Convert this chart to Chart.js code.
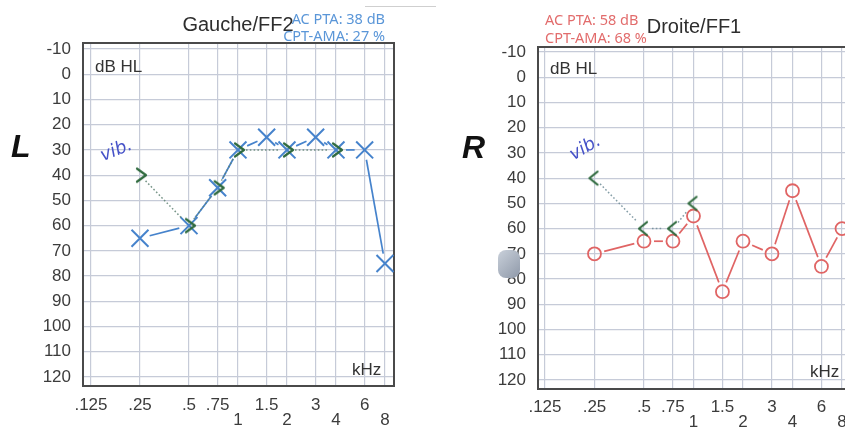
<!DOCTYPE html>
<html><head><meta charset="utf-8">
<script src="https://cdn.jsdelivr.net/npm/chart.js@4.4.0/dist/chart.umd.min.js"></script>
<style>
html,body{margin:0;padding:0;background:#fff;overflow:hidden;width:845px;height:431px;}
#wrap{position:relative;width:845px;height:431px;overflow:hidden;background:#fff;}
canvas{position:absolute;top:0;}
.t{position:absolute;white-space:nowrap;font-family:"Liberation Sans",Arial,sans-serif;color:#333;}
.pta{position:absolute;white-space:nowrap;font-family:"Noto Sans",sans-serif;font-size:14.5px;line-height:14px;}
.big{font-weight:bold;font-style:italic;font-size:32px;line-height:32px;color:#111;}
.vib{position:absolute;white-space:nowrap;font-family:"DejaVu Sans",sans-serif;font-style:italic;font-size:18px;line-height:18px;color:#4652c8;transform-origin:0 100%;}
</style></head>
<body><div id="wrap">
<canvas id="left" width="400" height="431" style="left:0"></canvas>
<canvas id="right" width="407" height="431" style="left:450px"></canvas>

<div class="t" style="left:138px;top:14px;width:200px;text-align:center;font-size:20px;line-height:20px;color:#2e2e2e">Gauche/FF2</div>
<div class="pta" style="left:235px;top:11px;width:150px;text-align:right;color:#5a96d8">AC PTA: 38 dB</div>
<div class="pta" style="left:235px;top:28px;width:150px;text-align:right;color:#5a96d8">CPT-AMA: 27 %</div>

<div class="t" style="left:594px;top:16px;width:200px;text-align:center;font-size:20px;line-height:20px;color:#2e2e2e">Droite/FF1</div>
<div class="pta" style="left:545px;top:12px;color:#e26c6c">AC PTA: 58 dB</div>
<div class="pta" style="left:545px;top:30px;color:#e26c6c">CPT-AMA: 68 %</div>

<div class="t big" style="left:11px;top:130px">L</div>
<div class="t big" style="left:462px;top:131px">R</div>

<div class="t" style="left:95px;top:58px;font-size:17px;line-height:17px">dB HL</div>
<div class="t" style="left:550px;top:60px;font-size:17px;line-height:17px">dB HL</div>
<div class="t" style="left:352px;top:361px;font-size:17px;line-height:17px">kHz</div>
<div class="t" style="left:810px;top:363px;font-size:17px;line-height:17px">kHz</div>

<div class="vib" style="left:104px;top:146px;transform:rotate(-22deg)">vib.</div>
<div class="vib" style="left:575px;top:145px;transform:rotate(-30deg)">vib.</div>

<div style="position:absolute;left:365px;top:6px;width:71px;height:1px;background:#cfcfcf"></div>
<div style="position:absolute;left:498px;top:250px;width:22px;height:28px;border-radius:8px;background:linear-gradient(135deg,#c9d0da,#8f99a9)"></div>
</div>
<script>
// ---- data ----
const tickFreqs  = [0.125, 0.25, 0.5, 0.75, 1, 1.5, 2, 3, 4, 6, 8];
const tickLabels = ['.125', '.25', '.5', '.75', '1', '1.5', '2', '3', '4', '6', '8'];
const tickRow    = [0, 0, 0, 0, 1, 0, 1, 0, 1, 0, 1];
const dbTicks    = [-10, 0, 10, 20, 30, 40, 50, 60, 70, 80, 90, 100, 110, 120];

const acFreqs    = [0.25, 0.5, 0.75, 1, 1.5, 2, 3, 4, 6, 8];
const leftAC     = [65, 60, 45, 30, 25, 30, 25, 30, 30, 75];
const rightAC    = [70, 65, 65, 55, 85, 65, 70, 45, 75, 60];

const leftBCFreqs  = [0.25, 0.5, 0.75, 1, 2, 4];
const leftBC       = [40, 60, 45, 30, 30, 30];
const rightBCFreqs = [0.25, 0.5, 0.75, 1];
const rightBC      = [40, 60, 60, 50];

// ---- helpers ----
const FONT = '"Liberation Sans", Arial, sans-serif';
const GRID = '#c6cbd8';
const TICKC = '#3c3c3c';

function pts(freqs, vals) { return freqs.map((f, i) => ({x: Math.log2(f), y: vals[i]})); }

function gapDash(gap, dash) {
  return (ctx) => {
    const p0 = ctx.p0, p1 = ctx.p1;
    const L = Math.hypot(p1.x - p0.x, p1.y - p0.y);
    const inner = L - 2 * gap;
    const big = 10000 + ctx.p0DataIndex;
    if (inner <= 0) return [0, big];
    if (!dash) return [0, gap, inner, big];
    const arr = [0, gap];
    let s = 0;
    while (s + dash[0] <= inner) { arr.push(dash[0], dash[1]); s += dash[0] + dash[1]; }
    arr[arr.length - 1] = big;
    return arr;
  };
}

function chevron(dir) {
  const c = document.createElement('canvas');
  c.width = 24; c.height = 18;
  const g = c.getContext('2d');
  g.strokeStyle = '#2f6a3e';
  g.lineWidth = 2.2;
  g.lineJoin = 'round';
  g.lineCap = 'round';
  g.beginPath();
  if (dir === '>') { g.moveTo(9, 2.5); g.lineTo(18, 9); g.lineTo(9, 15.5); }
  else { g.moveTo(15, 2.5); g.lineTo(7, 9); g.lineTo(15, 15.5); }
  g.stroke();
  return c;
}

const framePlugin = {
  id: 'frame',
  beforeDatasetsDraw(chart) {
    const {ctx, chartArea: a} = chart;
    ctx.save();
    ctx.strokeStyle = '#4a4a4a';
    ctx.lineWidth = 2;
    ctx.strokeRect(a.left, a.top, a.right - a.left, a.bottom - a.top);
    ctx.restore();
  }
};

function makeChart(id, o) {
  return new Chart(document.getElementById(id), {
    type: 'scatter',
    data: {
      datasets: [
        {
          data: pts(o.bcFreqs, o.bcVals),
          showLine: true, order: 0,
          borderColor: o.bcLine, borderWidth: 1.5, borderCapStyle: 'butt',
          segment: { borderDash: gapDash(8, [1.6, 2.2]) },
          pointStyle: chevron(o.bcDir), pointRadius: 9, pointHoverRadius: 9
        },
        {
          data: pts(acFreqs, o.acVals),
          showLine: true, order: 1,
          borderColor: o.acColor, borderWidth: 1.7, borderCapStyle: 'butt',
          segment: { borderDash: gapDash(10) },
          pointStyle: o.acStyle, pointRadius: o.acRadius, pointHoverRadius: o.acRadius,
          pointBorderColor: o.acColor, pointBorderWidth: o.acPtWidth, pointHoverBorderWidth: o.acPtWidth,
          pointBackgroundColor: 'rgba(0,0,0,0)'
        }
      ]
    },
    options: {
      responsive: false, maintainAspectRatio: false, animation: false, events: [],
      layout: { autoPadding: false, padding: { top: o.padTop, right: 6, bottom: 0, left: 0 } },
      plugins: { legend: {display: false}, tooltip: {enabled: false}, title: {display: false} },
      scales: {
        x: {
          type: 'linear', min: o.xMin, max: o.xMax,
          afterBuildTicks: s => { s.ticks = tickFreqs.map(f => ({value: Math.log2(f)})); },
          afterFit: s => { s.height = o.xAxisH; s.paddingLeft = 0; s.paddingRight = 0; },
          grid: { color: GRID, lineWidth: 1.2, drawTicks: false },
          border: { display: false },
          ticks: {
            autoSkip: false, maxRotation: 0, minRotation: 0, padding: o.xPad, color: TICKC,
            font: { family: FONT, size: 17, lineHeight: '15px' },
            callback: (v, i) => tickRow[i] ? ['', tickLabels[i]] : tickLabels[i]
          }
        },
        y: {
          type: 'linear', reverse: true, min: o.yMin, max: o.yMax,
          afterBuildTicks: s => { s.ticks = dbTicks.map(v => ({value: v})); },
          afterFit: s => { s.width = o.yAxisW; s.paddingTop = 0; s.paddingBottom = 0; },
          grid: { color: GRID, lineWidth: 1.2, drawTicks: false },
          border: { display: false },
          ticks: {
            autoSkip: false, padding: 12, color: TICKC,
            font: { family: FONT, size: 17 },
            callback: v => String(v)
          }
        }
      }
    },
    plugins: [framePlugin]
  });
}

makeChart('left', {
  acVals: leftAC, acColor: '#4683cc', acStyle: 'crossRot', acRadius: 12, acPtWidth: 2,
  bcFreqs: leftBCFreqs, bcVals: leftBC, bcDir: '>', bcLine: 'rgba(95,130,115,0.85)',
  xMin: -3.163, xMax: 3.184, yMin: -12.38, yMax: 123.57,
  padTop: 43, xAxisH: 45, yAxisW: 83, xPad: 11.5
});
makeChart('right', {
  acVals: rightAC, acColor: '#e06464', acStyle: 'circle', acRadius: 6.5, acPtWidth: 1.8,
  bcFreqs: rightBCFreqs, bcVals: rightBC, bcDir: '<', bcLine: 'rgba(110,140,150,0.85)',
  xMin: -3.141, xMax: 3.182, yMin: -11.98, yMax: 123.57,
  padTop: 47, xAxisH: 42, yAxisW: 88, xPad: 10.5
});
</script>
</body></html>
